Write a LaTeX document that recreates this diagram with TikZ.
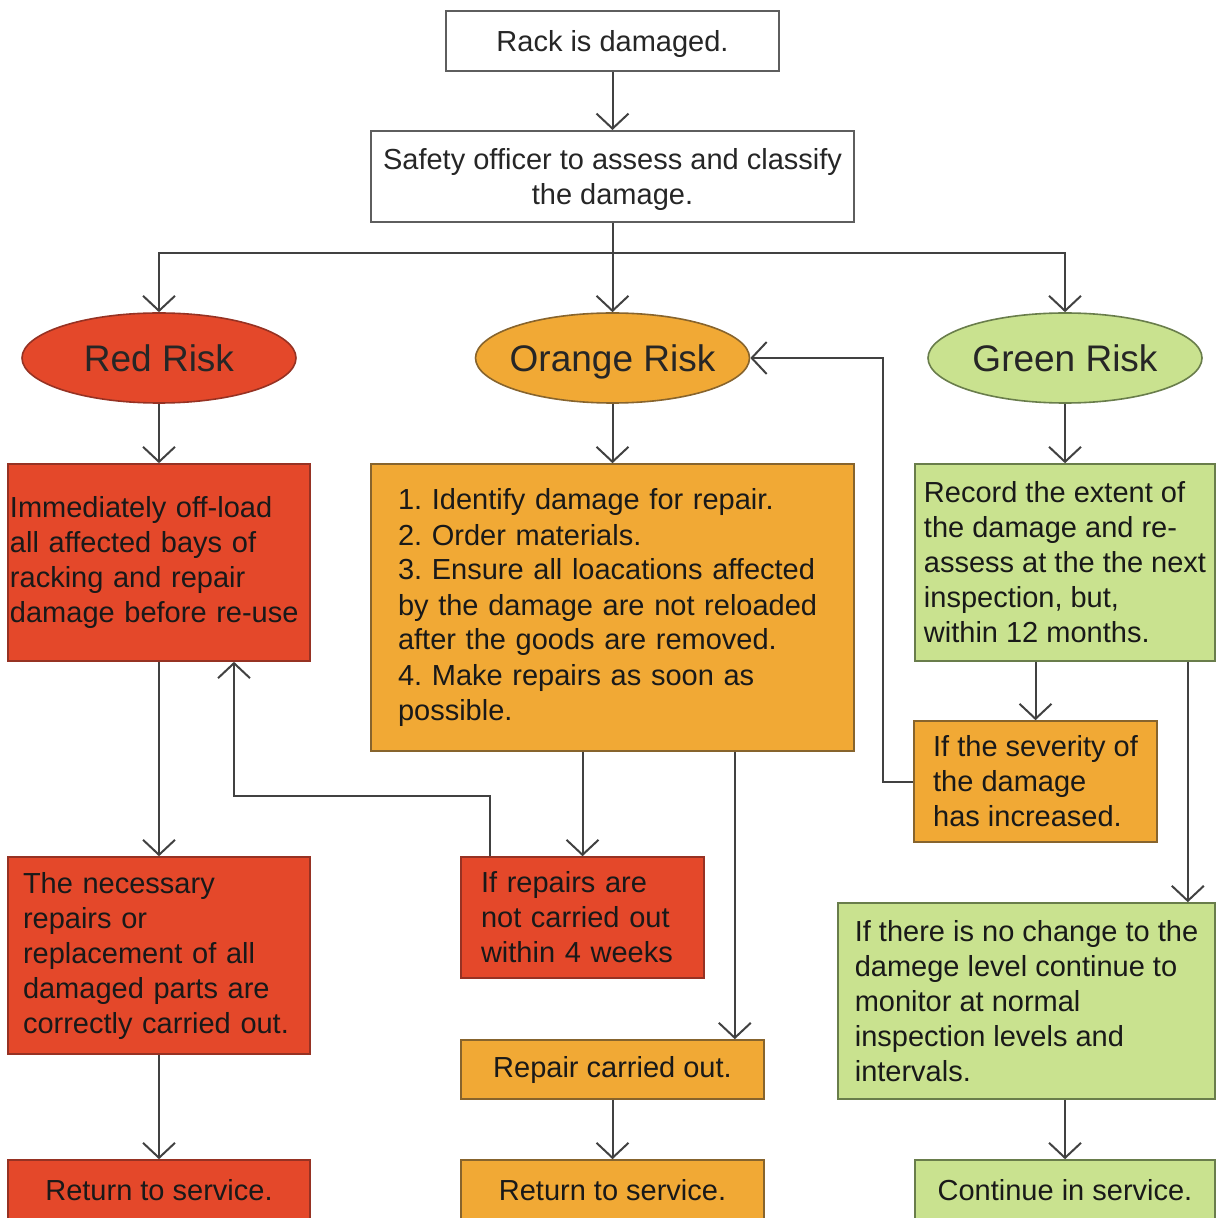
\documentclass[tikz,border=0pt]{standalone}
\usepackage{fontspec}
\setmainfont{Liberation Sans}
\usepackage{xcolor}
\usepackage{tikz}
\usetikzlibrary{shapes.geometric,arrows.meta}

\definecolor{riskred}{RGB}{228,72,42}
\definecolor{riskredline}{RGB}{150,50,35}
\definecolor{riskorange}{RGB}{241,169,53}
\definecolor{riskorangeline}{RGB}{135,100,45}
\definecolor{riskgreen}{RGB}{201,226,143}
\definecolor{riskgreenline}{RGB}{105,125,75}
\definecolor{flowline}{RGB}{65,65,65}

\newcommand{\boxfont}{\fontsize{14.5}{17.5}\selectfont\frenchspacing}
\newcommand{\riskfont}{\fontsize{18.5}{21}\selectfont}

\begin{document}
\begin{tikzpicture}[x=0.5pt,y=-0.5pt,->,>={Straight Barb[length=7.5pt,width=16pt]},
    flow/.style={draw=flowline,line width=1pt},
    plainbox/.style={rectangle,draw=flowline!85,line width=1pt,fill=white,inner sep=0pt,text depth=0pt,align=center,text=black!85,font=\boxfont},
    risk/.style={ellipse,line width=0.8pt,minimum width=137pt,minimum height=45pt,inner sep=0pt,text height=13.3pt,text depth=0pt,text=black!85,font=\riskfont},
    redbox/.style={rectangle,fill=riskred,draw=riskredline,line width=0.8pt,inner sep=0pt,align=left,text=black!90,font=\boxfont},
    orangebox/.style={rectangle,fill=riskorange,draw=riskorangeline,line width=0.8pt,inner sep=0pt,align=left,text=black!90,font=\boxfont},
    greenbox/.style={rectangle,fill=riskgreen,draw=riskgreenline,line width=0.8pt,inner sep=0pt,align=left,text=black!90,font=\boxfont}]

    \useasboundingbox (0,0) rectangle (1216,1218);
    \clip (0,0) rectangle (1216,1218);

    % The graph
    \node [plainbox,minimum width=166.5pt,minimum height=30pt] at (612.5,41) (rack) {Rack is damaged.};
    \node [plainbox,minimum width=241.5pt,minimum height=45.5pt] at (612.5,176.5) (assess) {Safety officer to assess and classify\\the damage.};

    \node [risk,fill=riskred,draw=riskredline] at (159,358) (red) {\makebox[0pt]{Red Risk}};
    \node [risk,fill=riskorange,draw=riskorangeline] at (612.5,358) (orange) {\makebox[0pt]{Orange Risk}};
    \node [risk,fill=riskgreen,draw=riskgreenline] at (1065,358) (green) {\makebox[0pt]{Green Risk}};

    \node [redbox,minimum width=151pt,minimum height=98.5pt,text width=149pt] at (159,562.5) (redact)
        {Immediately off-load\\all affected bays of\\racking and repair\\damage before re-use};
    \node [orangebox,minimum width=241.5pt,minimum height=143.5pt,text width=214.5pt] at (612.5,607.5) (orangeact)
        {1. Identify damage for repair.\\2. Order materials.\\3. Ensure all loacations affected\\by the damage are not reloaded\\after the goods are removed.\\4. Make repairs as soon as\\possible.};
    \node [greenbox,minimum width=150pt,minimum height=98.5pt] at (1065,562.5) (greenrec)
        {Record the extent of\\the damage and re-\\assess at the the next\\inspection, but,\\within 12 months.};

    \node [orangebox,minimum width=121.5pt,minimum height=60.5pt] at (1035.5,781.5) (severity)
        {If the severity of\\the damage\\has increased.};

    \node [redbox,minimum width=151pt,minimum height=98.5pt,text width=136pt] at (159,955.5) (redfix)
        {The necessary\\repairs or\\replacement of all\\damaged parts are\\correctly carried out.};
    \node [redbox,minimum width=121.5pt,minimum height=60.5pt,text width=101.5pt] at (582.5,917.5) (latefix)
        {If repairs are\\not carried out\\within 4 weeks};
    \node [greenbox,minimum width=188.5pt,minimum height=98pt] at (1026.5,1001) (nochange)
        {If there is no change to the\\damege level continue to\\monitor at normal\\inspection levels and\\intervals.};

    \node [orangebox,align=center,minimum width=151.5pt,minimum height=29.5pt] at (612.5,1069.5) (repaired) {Repair carried out.};

    \node [redbox,align=center,minimum width=151pt,minimum height=30pt] at (159,1190) (redret) {Return to service.};
    \node [orangebox,align=center,minimum width=151.5pt,minimum height=30pt] at (612.5,1190) (orangeret) {Return to service.};
    \node [greenbox,align=center,minimum width=150pt,minimum height=30pt] at (1065,1190) (greenret) {Continue in service.};

    % Graph edges
    \path[flow]
    (rack) edge (assess)
    (assess) edge (orange)
    (red) edge (redact)
    (orange) edge (orangeact)
    (redact) edge (redfix)
    (redfix) edge (redret)
    (green) edge (greenrec)
    (repaired) edge (orangeret);

    \draw[flow] (assess.south) -- ++(0,30) -| (red);
    \draw[flow] (assess.south) -- ++(0,30) -| (green);

    \draw[flow] (orangeact.south -| latefix.north) -- (latefix.north);
    \draw[flow] ([xshift=-60pt]orangeact.south east) coordinate (o1) -- (o1 |- repaired.north);
    \draw[flow] ([xshift=15pt]latefix.north west) -- ++(0,-60) -| ([xshift=37.5pt]redact.south);

    \draw[flow] (greenrec.south -| severity.north) -- (severity.north);
    \draw[flow] (severity.west) -- ++(-30,0) |- (orange);
    \draw[flow] ([xshift=-14pt]greenrec.south east) coordinate (g1) -- (g1 |- nochange.north);
    \draw[flow] (nochange.south -| greenret.north) -- (greenret.north);

\end{tikzpicture}
\end{document}
